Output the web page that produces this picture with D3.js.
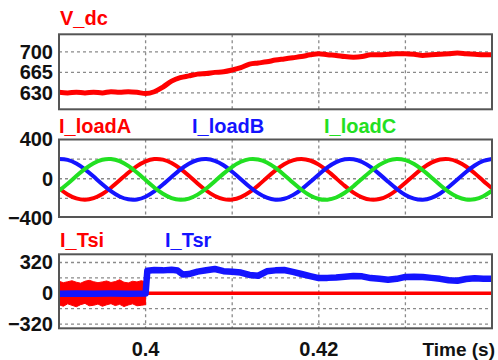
<!DOCTYPE html>
<html>
<head>
<meta charset="utf-8">
<script src="https://cdn.jsdelivr.net/npm/d3@7/dist/d3.min.js"></script>
<style>
  html, body { margin: 0; padding: 0; background: #fff; }
  svg { display: block; font-family: "Liberation Sans", Arial, sans-serif; }
</style>
</head>
<body>
<svg id="chart" width="498" height="360"></svg>
<script>
// ---- Data (1 ms samples from 0.390 s to 0.440 s) ----
const sampleTimes = d3.range(51).map(i => +(0.39 + i * 0.001).toFixed(3));

// DC link voltage (V)
const vdc = [631, 630, 631, 630, 631, 630, 632, 631, 632, 631,
             629, 632, 640, 650, 656, 659, 662, 663, 665, 666,
             669, 673, 679, 681, 683, 686, 688, 690, 692, 695,
             697, 695, 694, 692, 691, 692, 695, 695, 696, 697,
             697, 696, 694, 695, 696, 697, 698, 697, 696, 695, 695];

// Three-phase load currents (A)
const iLoadA = [-97, -160, -200, -214, -198, -156, -92, -16, 61, 129,
                177, 201, 195, 161, 103, 30, -48, -120, -176, -208,
                -212, -187, -137, -68, 10, 85, 148, 188, 202, 186,
                144, 80, 4, -73, -141, -189, -213, -207, -173, -115,
                -42, 36, 108, 164, 196, 200, 175, 125, 56, -22, -97];
const iLoadB = [201, 192, 155, 96, 22, -56, -127, -181, -210, -211,
                -183, -130, -59, 18, 93, 153, 191, 202, 183, 138,
                72, -4, -81, -147, -193, -213, -204, -167, -108, -34,
                44, 115, 169, 198, 199, 171, 118, 47, -30, -105,
                -165, -203, -214, -195, -150, -84, -8, 69, 135, 181, 201];
const iLoadC = [-122, -51, 27, 100, 159, 194, 201, 179, 131, 64,
                -13, -89, -153, -197, -214, -202, -162, -100, -25, 52,
                122, 173, 200, 197, 166, 110, 39, -39, -112, -171,
                -206, -213, -191, -143, -76, 1, 77, 141, 185, 202,
                190, 150, 88, 13, -64, -134, -185, -211, -209, -178, -122];

// Inverter switch current before transfer: envelope of the switching ripple (0.5 ms steps)
const tsiBandTimes = d3.range(21).map(i => +(0.39 + i * 0.0005).toFixed(4));
const tsiUpper = [125, 110, 120, 130, 115, 105, 125, 135, 120, 110, 118,
                  128, 112, 122, 140, 115, 108, 125, 118, 130, 120];
const tsiLower = [-120, -135, -110, -125, -140, -118, -105, -130, -125, -112, -135,
                  -120, -108, -128, -115, -138, -122, -110, -130, -125, -118];
// Inverter switch current after transfer
const tsiTimes = [0.400, 0.440];
const tsiValues = [0, 0];

// Bypass switch current
const tsrTimes = [0.390, 0.392, 0.394, 0.396, 0.398, 0.4000, 0.4002, 0.401, 0.402, 0.403,
                  0.4037, 0.4043, 0.405, 0.406, 0.407, 0.408, 0.409, 0.410, 0.411, 0.412,
                  0.413, 0.414, 0.415, 0.416, 0.417, 0.418, 0.419, 0.420, 0.421, 0.422,
                  0.423, 0.424, 0.425, 0.426, 0.427, 0.428, 0.429, 0.430, 0.431, 0.432,
                  0.433, 0.434, 0.435, 0.436, 0.437, 0.438, 0.439, 0.440];
const tsrValues = [-4, -2, -5, -3, -4, -3, 235, 242, 238, 244,
                   236, 195, 200, 225, 240, 252, 230, 224, 215, 190,
                   182, 228, 238, 242, 222, 200, 178, 158, 160, 165,
                   172, 180, 176, 158, 150, 140, 150, 170, 172, 168,
                   160, 150, 135, 130, 148, 156, 152, 150];

// Axis ticks and labels
const timeGrid = [0.40, 0.41, 0.42, 0.43];
const timeLabels = [{ t: 0.40, text: "0.4" }, { t: 0.42, text: "0.42" }];
const vdcTicks = [630, 665, 700];
const loadTicks = [-400, 0, 400];
const loadGrid = [-200, 0, 200];
const switchTicks = [-320, 0, 320];
const switchGrid = [-320, -160, 0, 160, 320];

// ---- Colours ----
const RED = "#ff0000", BLUE = "#1414ff", GREEN = "#22e022";

const svg = d3.select("#chart");
const left = 59, right = 492;
const x = d3.scaleLinear().domain([0.39, 0.44]).range([left, right]);

function panel(id, top, bottom, domain, ticks, grid) {
  const y = d3.scaleLinear().domain(domain).range([bottom, top]);
  const g = svg.append("g");
  g.append("clipPath").attr("id", id)
    .append("rect").attr("x", left).attr("y", top)
    .attr("width", right - left).attr("height", bottom - top);

  // dashed grid
  const grd = g.append("g").attr("stroke", "#8a8a8a").attr("stroke-width", 1.3)
    .attr("stroke-dasharray", "3,3");
  grd.selectAll("line.h").data(grid).join("line").attr("class", "h")
    .attr("x1", left).attr("x2", right)
    .attr("y1", d => y(d)).attr("y2", d => y(d));
  grd.selectAll("line.v").data(timeGrid).join("line").attr("class", "v")
    .attr("x1", d => x(d)).attr("x2", d => x(d))
    .attr("y1", top).attr("y2", bottom);

  // y axis labels
  const ax = g.append("g").attr("transform", `translate(${left},0)`)
    .call(d3.axisLeft(y).tickValues(ticks).tickSize(0).tickPadding(6).tickFormat(d3.format("d")));
  ax.select(".domain").remove();
  ax.selectAll("text").attr("font-size", 20).attr("font-weight", "bold")
    .attr("fill", "#111").attr("font-family", "Liberation Sans, Arial, sans-serif");

  const plot = g.append("g").attr("clip-path", `url(#${id})`);
  return { y, g, plot, top, bottom };
}

function frame(p) {
  p.g.append("rect").attr("x", left).attr("y", p.top)
    .attr("width", right - left).attr("height", p.bottom - p.top)
    .attr("fill", "none").attr("stroke", "#555").attr("stroke-width", 2);
}

function label(text, xPos, yPos, color) {
  svg.append("text").attr("x", xPos).attr("y", yPos).text(text)
    .attr("fill", color).attr("font-size", 20).attr("font-weight", "bold");
}

// ---- Panel 1: V_dc ----
const p1 = panel("clip1", 34.3, 109.3, [602, 730], vdcTicks, vdcTicks);
p1.plot.append("path")
  .datum(sampleTimes.map((t, i) => [t, vdc[i]]))
  .attr("fill", "none").attr("stroke", RED).attr("stroke-width", 5)
  .attr("stroke-linejoin", "round")
  .attr("d", d3.line().x(d => x(d[0])).y(d => p1.y(d[1])).curve(d3.curveMonotoneX));
frame(p1);
label("V_dc", 60, 25, RED);

// ---- Panel 2: load currents ----
const p2 = panel("clip2", 139.5, 217, [-390, 400], loadTicks, loadGrid);
const loadLine = d3.line().x(d => x(d[0])).y(d => p2.y(d[1])).curve(d3.curveNatural);
[[iLoadA, RED], [iLoadB, BLUE], [iLoadC, GREEN]].forEach(([vals, col]) => {
  p2.plot.append("path")
    .datum(sampleTimes.map((t, i) => [t, vals[i]]))
    .attr("fill", "none").attr("stroke", col).attr("stroke-width", 4)
    .attr("d", loadLine);
});
frame(p2);
label("I_loadA", 59, 133, RED);
label("I_loadB", 192, 133, BLUE);
label("I_loadC", 324, 133, GREEN);

// ---- Panel 3: switch currents ----
const p3 = panel("clip3", 254.3, 328.3, [-364, 405], switchTicks, switchGrid);
p3.plot.append("path")
  .datum(tsiBandTimes.map((t, i) => [t, tsiUpper[i], tsiLower[i]]))
  .attr("fill", RED).attr("stroke", RED).attr("stroke-width", 1)
  .attr("d", d3.area().x(d => x(d[0])).y0(d => p3.y(d[2])).y1(d => p3.y(d[1])));
p3.plot.append("path")
  .datum(tsiTimes.map((t, i) => [t, tsiValues[i]]))
  .attr("fill", "none").attr("stroke", RED).attr("stroke-width", 3.5)
  .attr("d", d3.line().x(d => x(d[0])).y(d => p3.y(d[1])));
p3.plot.append("path")
  .datum(tsrTimes.map((t, i) => [t, tsrValues[i]]))
  .attr("fill", "none").attr("stroke", BLUE).attr("stroke-width", 6.5)
  .attr("stroke-linejoin", "round")
  .attr("d", d3.line().x(d => x(d[0])).y(d => p3.y(d[1])));
frame(p3);
label("I_Tsi", 60, 247, RED);
label("I_Tsr", 165, 247, BLUE);

// ---- Time axis labels ----
svg.selectAll("text.xt").data(timeLabels).join("text").attr("class", "xt")
  .attr("x", d => x(d.t)).attr("y", 356).attr("text-anchor", "middle")
  .attr("font-size", 20).attr("font-weight", "bold").attr("fill", "#111")
  .text(d => d.text);
svg.append("text").attr("x", 495).attr("y", 356).attr("text-anchor", "end")
  .attr("font-size", 19).attr("font-weight", "bold").attr("fill", "#111")
  .text("Time (s)");
</script>
</body>
</html>
